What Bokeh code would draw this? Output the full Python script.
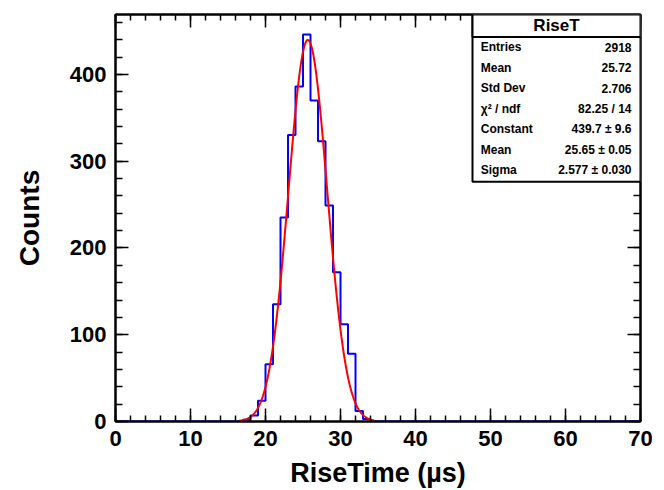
import numpy as np
from bokeh.plotting import figure
from bokeh.models import (LinearAxis, SingleIntervalTicker, Range1d, BoxAnnotation, Label,
                          CustomJSTickFormatter)
from bokeh.embed import file_html
from bokeh.resources import INLINE

# ---- data ----
bin_edges = list(range(0, 71))          # 70 bins, width 1 us
counts = [0] * 17 + [2, 7, 24, 66, 135, 235, 330, 386, 446, 370, 323, 249,
                     172, 112, 78, 12, 3] + [0] * 36
fit_constant = 439.7
fit_mean = 25.65
fit_sigma = 2.577
fit_range = (16.5, 34.5)

stats_title = "RiseT"
stats_names = ["Entries", "Mean", "Std Dev", "\u03c7\u00b2 / ndf", "Constant", "Mean", "Sigma"]
stats_values = ["2918", "25.72", "2.706", "82.25 / 14", "439.7 \u00b1 9.6",
                "25.65 \u00b1 0.05", "2.577 \u00b1 0.030"]

x_ticks_interval = 10
y_ticks_interval = 100
x_max = 70
y_max = 469

FONT = "Liberation Sans"

p = figure(width=664, height=490, output_backend="svg", toolbar_location=None,
           x_range=Range1d(0, x_max), y_range=Range1d(0, y_max),
           min_border_left=115, min_border_right=24, min_border_top=14,
           min_border_bottom=67, background_fill_color="white",
           border_fill_color="white")
p.xgrid.visible = False
p.ygrid.visible = False
p.outline_line_color = "black"
p.outline_line_width = 2

def style_axis(ax, major_len, minor_len, show_labels):
    ax.axis_line_color = "black"
    ax.axis_line_width = 2
    ax.major_tick_line_color = "black"
    ax.minor_tick_line_color = "black"
    ax.major_tick_line_width = 1.5
    ax.minor_tick_line_width = 1.5
    ax.major_tick_in = major_len
    ax.major_tick_out = 0
    ax.minor_tick_in = minor_len
    ax.minor_tick_out = 0
    ax.major_label_text_font = FONT
    ax.major_label_text_font_style = "bold"
    ax.major_label_text_color = "black"
    ax.major_label_text_font_size = "22px"
    if not show_labels:
        ax.formatter = CustomJSTickFormatter(code="return '';")
        ax.major_label_standoff = 0

xa = p.xaxis[0]
xa.ticker = SingleIntervalTicker(interval=x_ticks_interval, num_minor_ticks=5)
style_axis(xa, 13, 6, True)
xa.major_label_standoff = 9
xa.axis_label = "RiseTime (\u00b5s)"
xa.axis_label_text_font = FONT
xa.axis_label_text_font_style = "bold"
xa.axis_label_text_font_size = "27px"
xa.axis_label_text_color = "black"
xa.axis_label_standoff = 9

ya = p.yaxis[0]
ya.ticker = SingleIntervalTicker(interval=y_ticks_interval, num_minor_ticks=5)
style_axis(ya, 13, 7, True)
ya.major_label_standoff = 9
ya.axis_label = "Counts"
ya.axis_label_text_font = FONT
ya.axis_label_text_font_style = "bold"
ya.axis_label_text_font_size = "28px"
ya.axis_label_text_color = "black"
ya.axis_label_standoff = 22

top_ax = LinearAxis(ticker=SingleIntervalTicker(interval=x_ticks_interval, num_minor_ticks=5))
style_axis(top_ax, 13, 6, False)
p.add_layout(top_ax, "above")
right_ax = LinearAxis(ticker=SingleIntervalTicker(interval=y_ticks_interval, num_minor_ticks=5))
style_axis(right_ax, 13, 7, False)
p.add_layout(right_ax, "right")

# histogram outline
p.step(x=bin_edges, y=counts + [counts[-1]], mode="after", line_color="#0000ff", line_width=2)

# gaussian fit curve from the fit parameters
fx = np.linspace(fit_range[0], fit_range[1], 400)
fy = fit_constant * np.exp(-0.5 * ((fx - fit_mean) / fit_sigma) ** 2)
p.line(fx, fy, line_color="#ff0000", line_width=2)

# ---- stats box (annotation, in data units of the frame) ----
box_left, box_right, box_bottom, box_top = 47.6, 70.0, 276.4, 469.0
title_bottom = 443.0
p.add_layout(BoxAnnotation(left=box_left, right=box_right, bottom=box_bottom, top=box_top,
                           fill_color="white", fill_alpha=1.0, line_color="black",
                           line_width=2, line_alpha=1.0))
p.add_layout(BoxAnnotation(left=box_left, right=box_right, bottom=title_bottom, top=box_top,
                           fill_color="white", fill_alpha=1.0, line_color="black",
                           line_width=2, line_alpha=1.0))
p.add_layout(Label(x=(box_left + box_right) / 2, y=(title_bottom + box_top) / 2, text=stats_title,
                   text_font=FONT, text_font_style="bold", text_font_size="17px",
                   text_align="center", text_baseline="middle", text_color="black"))
row_top = 431.5
row_step = 23.7
for i, (nm, val) in enumerate(zip(stats_names, stats_values)):
    yy = row_top - i * row_step
    p.add_layout(Label(x=48.7, y=yy, text=nm, text_font=FONT, text_font_style="bold",
                       text_font_size="12px", text_align="left", text_baseline="middle",
                       text_color="black"))
    p.add_layout(Label(x=68.8, y=yy, text=val, text_font=FONT, text_font_style="bold",
                       text_font_size="12px", text_align="right", text_baseline="middle",
                       text_color="black"))

open("out.html", "w").write(file_html(p, INLINE))
